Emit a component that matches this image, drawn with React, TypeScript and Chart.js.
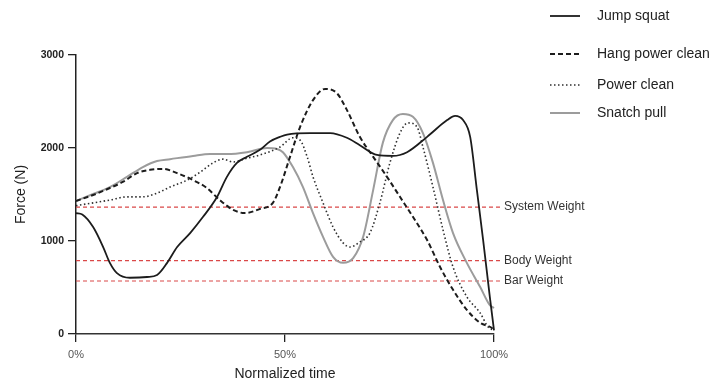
import React, { useEffect, useRef } from "react";
import { Chart, registerables } from "chart.js";

Chart.register(...registerables);

// ---- Data ----
const seriesNames = ["Jump squat", "Hang power clean", "Power clean", "Snatch pull"];

const jumpSquatX = [0, 1.5, 4.1, 6.5, 8.1, 9.8, 12.9, 17.0, 19.4, 21.8, 24.2, 27.3, 30.4, 33.7, 36.1, 38.5, 40.9, 44.0, 46.4, 48.8, 50.5, 56, 60.8, 64.8, 67.9, 72.0, 75.8, 79.2, 84.0, 88.8, 90.7, 92.6, 94.3, 95.9, 97.4, 99.0, 100];
const jumpSquatY = [1300, 1285, 1150, 935, 765, 655, 605, 613, 635, 765, 935, 1085, 1260, 1470, 1690, 1840, 1905, 1980, 2070, 2120, 2145, 2160, 2160, 2110, 2030, 1925, 1915, 1955, 2120, 2300, 2345, 2300, 2120, 1550, 1010, 400, 40];

const hangCleanX = [0, 4.1, 8.1, 11.2, 14.6, 17.7, 20.8, 24.2, 28.0, 31.3, 34.4, 37.6, 40.4, 44.0, 47.1, 48.8, 51.2, 53.6, 56.7, 59.6, 62.4, 64.8, 67.9, 71.1, 74.4, 77.5, 80.6, 84.0, 87.1, 90.2, 93.5, 96.7, 99.5, 100];
const hangCleanY = [1430, 1495, 1570, 1635, 1730, 1765, 1775, 1730, 1655, 1570, 1440, 1335, 1300, 1345, 1410, 1580, 1905, 2225, 2515, 2635, 2590, 2410, 2120, 1905, 1690, 1475, 1260, 1010, 720, 475, 260, 120, 65, 40];

const powerCleanX = [0, 4.1, 8.1, 12.2, 16.0, 19.4, 22.5, 26.6, 29.7, 32.8, 35.2, 37.6, 40.9, 44.0, 48.8, 51.9, 53.6, 55.3, 56.7, 59.1, 61.5, 63.9, 65.6, 67.9, 70.3, 72.7, 75.1, 77.5, 79.4, 81.6, 83.0, 85.4, 87.8, 90.2, 93.5, 96.7, 98.6, 100];
const powerCleanY = [1380, 1410, 1440, 1475, 1475, 1515, 1580, 1655, 1740, 1840, 1880, 1850, 1890, 1925, 2010, 2110, 2085, 1905, 1690, 1410, 1150, 980, 935, 990, 1085, 1410, 1840, 2160, 2270, 2225, 2010, 1580, 1120, 720, 400, 225, 75, 40];

const snatchPullX = [0, 4.1, 8.1, 12.2, 16.0, 19.4, 22.5, 28.0, 32.1, 36.1, 40.9, 45.7, 48.1, 49.5, 51.9, 54.3, 56.7, 59.1, 61.5, 63.9, 66.3, 68.7, 71.1, 73.4, 75.8, 78.2, 80.6, 83.0, 85.4, 87.8, 90.2, 93.5, 96.7, 99.0, 100];
const snatchPullY = [1430, 1505, 1580, 1690, 1795, 1860, 1880, 1915, 1935, 1935, 1955, 2000, 1990, 1955, 1795, 1580, 1300, 1045, 830, 765, 815, 1045, 1550, 2055, 2300, 2365, 2335, 2160, 1840, 1440, 1085, 765, 505, 310, 280];

const refNames = ["System Weight", "Body Weight", "Bar Weight"];
const refValues = [1365, 790, 570];
const refLineEndX = 101.9;

const xTickValues = [0, 50, 100];
const xTickLabels = ["0%", "50%", "100%"];
const yTickValues = [0, 1000, 2000, 3000];
const yTickLabels = ["0", "1000", "2000", "3000"];

const xTitle = "Normalized time";
const yTitle = "Force (N)";

// ---- Styles ----
const FONT = "'Liberation Sans', Arial, Helvetica, sans-serif";
const seriesStyles = [
  { color: "#1c1c1c", width: 1.8, dash: [] as number[] },
  { color: "#1c1c1c", width: 2, dash: [5, 3] },
  { color: "#2e2e2e", width: 1.6, dash: [1.5, 2.5] },
  { color: "#9c9c9c", width: 2, dash: [] as number[] },
];
const legendYs = [16, 54, 85, 113];
const REF_COLOR = "rgb(218, 72, 72)";

function toPoints(xs: number[], ys: number[]) {
  return xs.map((x, i) => ({ x, y: ys[i] }));
}

const overlayPlugin = {
  id: "overlay",
  afterDraw(chart: any) {
    const ctx = chart.ctx as CanvasRenderingContext2D;
    const area = chart.chartArea;
    const yScale = chart.scales.y;
    ctx.save();
    // reference labels
    ctx.font = `12px ${FONT}`;
    ctx.fillStyle = "#333";
    ctx.textBaseline = "middle";
    ctx.textAlign = "left";
    refNames.forEach((name, i) => {
      ctx.fillText(name, area.right + 10, yScale.getPixelForValue(refValues[i]));
    });
    // legend
    ctx.font = `14px ${FONT}`;
    seriesNames.forEach((name, i) => {
      const st = seriesStyles[i];
      const y = legendYs[i];
      ctx.beginPath();
      ctx.strokeStyle = st.color;
      ctx.lineWidth = st.width;
      ctx.setLineDash(st.dash);
      ctx.moveTo(550, y);
      ctx.lineTo(580, y);
      ctx.stroke();
      ctx.setLineDash([]);
      ctx.fillStyle = "#222";
      ctx.fillText(name, 597, y);
    });
    ctx.restore();
  },
};

export default function App() {
  const ref = useRef<HTMLCanvasElement>(null);

  useEffect(() => {
    if (!ref.current) return;
    const seriesX = [jumpSquatX, hangCleanX, powerCleanX, snatchPullX];
    const seriesY = [jumpSquatY, hangCleanY, powerCleanY, snatchPullY];

    const curveSets = seriesNames.map((name, i) => ({
      label: name,
      data: toPoints(seriesX[i], seriesY[i]),
      borderColor: seriesStyles[i].color,
      borderWidth: seriesStyles[i].width,
      borderDash: seriesStyles[i].dash,
      pointRadius: 0,
      fill: false,
      cubicInterpolationMode: "monotone" as const,
      order: 1,
      clip: false as const,
    }));

    const refSets = refNames.map((name, i) => ({
      label: name,
      data: [
        { x: 0, y: refValues[i] },
        { x: refLineEndX, y: refValues[i] },
      ],
      borderColor: REF_COLOR,
      backgroundColor: REF_COLOR,
      borderWidth: 1.2,
      borderDash: [4, 3],
      pointRadius: 0,
      fill: false,
      tension: 0,
      order: 10,
      clip: false as const,
    }));

    const chart = new Chart(ref.current, {
      type: "line",
      data: { datasets: [...curveSets, ...refSets] as any },
      options: {
        responsive: false,
        animation: false,
        devicePixelRatio: 1,
        layout: { padding: { left: 0, right: 227, top: 55, bottom: 0 } },
        plugins: {
          legend: { display: false },
          tooltip: { enabled: false },
        },
        scales: {
          x: {
            type: "linear",
            min: 0,
            max: 100,
            afterFit: (scale: any) => {
              scale.height = 56;
            },
            afterBuildTicks: (scale: any) => {
              scale.ticks = xTickValues.map((v) => ({ value: v }));
            },
            ticks: {
              callback: (v: any) => {
                const idx = xTickValues.indexOf(Number(v));
                return idx >= 0 ? xTickLabels[idx] : "";
              },
              font: { family: FONT, size: 11 },
              color: "#555",
              padding: 6,
              maxRotation: 0,
            },
            grid: {
              display: true,
              drawOnChartArea: false,
              drawTicks: true,
              tickLength: 8,
              color: "#222",
              lineWidth: 1.3,
            },
            border: { display: true, color: "#333", width: 1.5 },
            title: {
              display: true,
              text: xTitle,
              font: { family: FONT, size: 14 },
              color: "#222",
              padding: { top: 0, bottom: 7 },
            },
          },
          y: {
            type: "linear",
            min: 0,
            max: 3000,
            afterFit: (scale: any) => {
              scale.width = 76;
            },
            afterBuildTicks: (scale: any) => {
              scale.ticks = yTickValues.map((v) => ({ value: v }));
            },
            ticks: {
              callback: (v: any) => {
                const idx = yTickValues.indexOf(Number(v));
                return idx >= 0 ? yTickLabels[idx] : "";
              },
              font: { family: FONT, size: 10.5, weight: "bold" },
              color: "#222",
              padding: 4,
            },
            grid: {
              display: true,
              drawOnChartArea: false,
              drawTicks: true,
              tickLength: 8,
              color: "#222",
              lineWidth: 1.3,
            },
            border: { display: true, color: "#222", width: 1.5 },
            title: {
              display: true,
              text: yTitle,
              font: { family: FONT, size: 14 },
              color: "#222",
              padding: { top: 12.6, bottom: 0 },
            },
          },
        },
      },
      plugins: [overlayPlugin],
    });
    return () => chart.destroy();
  }, []);

  return (
    <div style={{ position: "absolute", left: 0, top: 0, width: 721, height: 390, background: "#fff" }}>
      <canvas ref={ref} width={721} height={390} style={{ display: "block", width: 721, height: 390 }} />
    </div>
  );
}
